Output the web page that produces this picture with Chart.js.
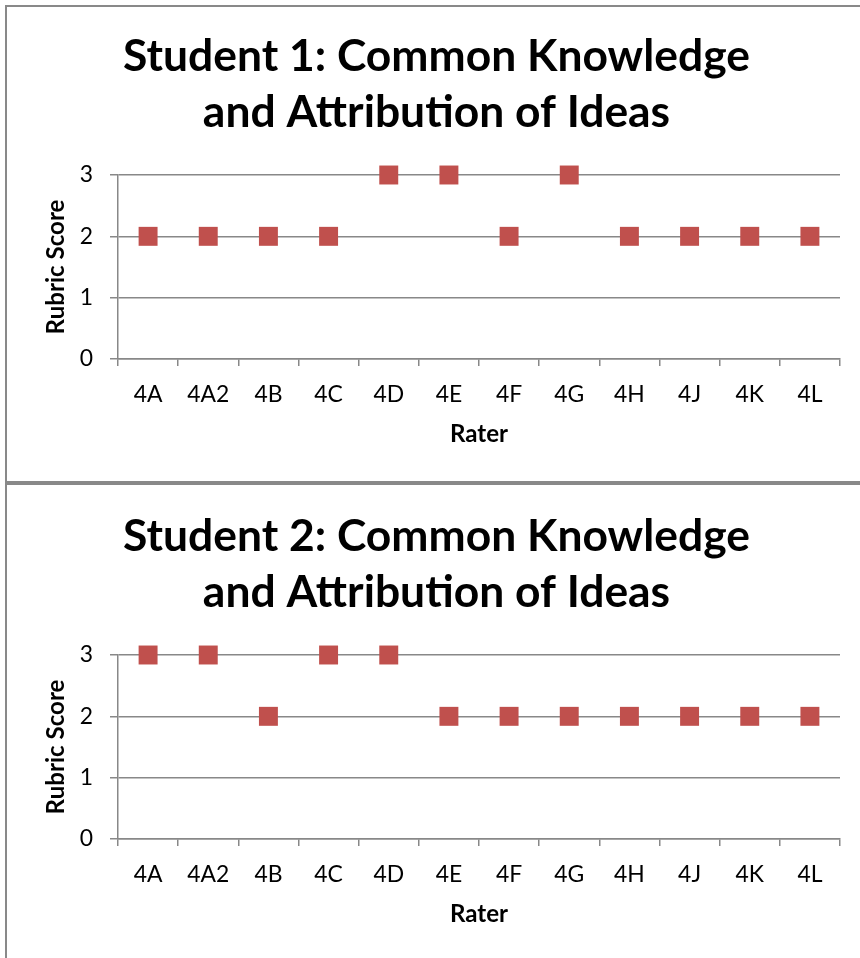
<!DOCTYPE html>
<html><head><meta charset="utf-8">
<script src="https://cdn.jsdelivr.net/npm/chart.js@4/dist/chart.umd.min.js"></script>
<style>
html,body{margin:0;padding:0;width:860px;height:958px;overflow:hidden;background:#fff;}
canvas{position:absolute;left:0;}
#c1{top:0}
#c2{top:480px}
.box{position:absolute;border:2px solid #898989;box-sizing:border-box;pointer-events:none;}
</style></head><body>
<canvas id="c1" width="873" height="482"></canvas>
<canvas id="c2" width="873" height="482"></canvas>
<div class="box" style="left:5px;top:5px;width:870px;height:478px"></div>
<div class="box" style="left:5px;top:483px;width:870px;height:490px"></div>
<script>
const raters = ['4A','4A2','4B','4C','4D','4E','4F','4G','4H','4J','4K','4L'];
const student1Scores = [2,2,2,2,3,3,2,3,2,2,2,2];
const student2Scores = [3,3,2,3,3,2,2,2,2,2,2,2];
const scoreTicks = [0,1,2,3];
const student1Title = ['Student 1: Common Knowledge','and Attribution of Ideas'];
const student2Title = ['Student 2: Common Knowledge','and Attribution of Ideas'];
const yAxisTitle = 'Rubric Score';
const xAxisTitle = 'Rater';

const FAMILY = 'Lato, "Open Sans", sans-serif';
const mctx = document.createElement('canvas').getContext('2d');
function fit(text, weight, target){
  mctx.font = weight + ' 100px ' + FAMILY;
  return Math.round(1000 * target / mctx.measureText(text).width) / 10;
}
const titleSize = fit(student1Title[0], 'bold', 627);
const tickSize = fit('4A2', 'normal', 42);
const axisTitleSize = fit(yAxisTitle, 'bold', 135);
const GRID = '#888888';
const SIDE = 33;

function makeChart(id, scores, title){
  const axLh = axisTitleSize * 1.2;
  return new Chart(document.getElementById(id), {
    type: 'line',
    data: {
      labels: raters,
      datasets: [{
        data: scores,
        showLine: false,
        pointStyle: 'rect',
        pointRadius: 13.4,
        pointHoverRadius: 13.4,
        pointBackgroundColor: '#C0504D',
        pointBorderWidth: 0,
        borderColor: '#C0504D',
        backgroundColor: '#C0504D',
        clip: false
      }]
    },
    options: {
      responsive: false,
      animation: false,
      events: [],
      layout: { padding: { left: SIDE, right: SIDE, top: 0, bottom: 0 } },
      plugins: {
        legend: { display: false },
        tooltip: { enabled: false },
        title: {
          display: true,
          text: title,
          color: '#000',
          font: { family: FAMILY, weight: 'bold', size: titleSize, lineHeight: 56 / titleSize },
          padding: { top: 29, bottom: 34 }
        }
      },
      scales: {
        x: {
          type: 'category',
          offset: true,
          afterFit: s => { s.height = 123; },
          grid: { offset: true, drawOnChartArea: false, drawTicks: true, tickLength: 7, color: GRID, lineWidth: 1.5 },
          border: { display: true, color: GRID, width: 1.5 },
          ticks: { color: '#000', padding: 15, font: { family: FAMILY, size: tickSize }, maxRotation: 0, autoSkip: false },
          title: { display: true, text: xAxisTitle, color: '#000', font: { family: FAMILY, weight: 'bold', size: axisTitleSize, lineHeight: 1.2 },
                   padding: { top: 0, bottom: 482 - 434 - axLh / 2 } }
        },
        y: {
          min: 0, max: 3,
          afterFit: s => { s.width = 118 - SIDE; },
          afterBuildTicks: s => { s.ticks = scoreTicks.map(v => ({ value: v })); },
          grid: { color: GRID, lineWidth: 1.5, drawTicks: true, tickLength: 8 },
          border: { display: true, color: GRID, width: 1.5 },
          ticks: { color: '#000', padding: 17, font: { family: FAMILY, size: tickSize } },
          title: { display: true, text: yAxisTitle, color: '#000', font: { family: FAMILY, weight: 'bold', size: axisTitleSize, lineHeight: 1.2 },
                   padding: { top: 56 - SIDE - axLh / 2, bottom: 0 } }
        }
      }
    }
  });
}
makeChart('c1', student1Scores, student1Title);
makeChart('c2', student2Scores, student2Title);
</script>
</body></html>
